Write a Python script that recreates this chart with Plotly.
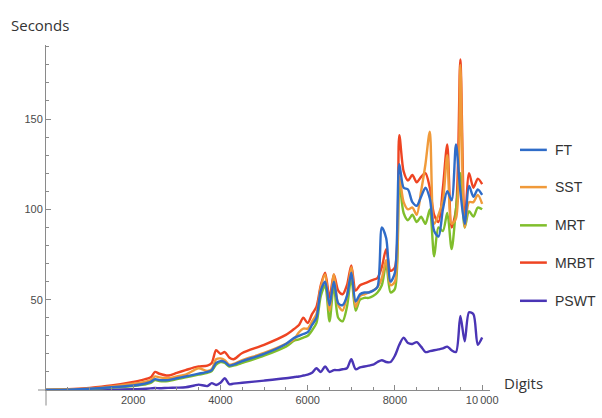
import plotly.graph_objects as go

# Input size (number of digits) at which timings were taken
digits = [0, 500, 1000, 1500, 2000, 2200, 2400, 2500, 2600, 2800,
          3000, 3200, 3400, 3500, 3700, 3800, 3900, 4000, 4100, 4200,
          4300, 4500, 5000, 5500, 5700,
          5800, 5900, 6000, 6100, 6200, 6300, 6400, 6500, 6600, 6700,
          6800, 6900, 7000, 7100, 7200, 7300, 7400, 7500, 7600, 7700,
          7800, 7900, 8000, 8100, 8200, 8300, 8400, 8500, 8600, 8700,
          8800, 8900, 9000, 9100, 9200, 9300, 9400, 9500, 9600, 9700,
          9800, 9900, 10000]

# Running times in seconds
ft = [0, 0.2, 0.7, 1.5, 2.5, 3.2, 4.5, 6, 5.5, 5.5,
      6.5, 7.5, 8.5, 9, 10, 11, 15, 16, 15.5, 13.5,
      14, 16, 20, 25.5, 29,
      30, 31, 32, 36, 40, 55, 60, 47, 60, 48,
      47, 52, 65, 49, 53, 54, 54, 55, 57, 90,
      84, 60, 65, 125, 112, 111, 104, 102, 107, 112,
      106, 88, 85, 100, 110, 105, 136, 110, 92, 113,
      107, 111, 108]

sst = [0, 0.3, 0.9, 2, 3.5, 4.2, 5.5, 7.5, 7, 6.5,
       7.5, 8.5, 11, 12, 10.5, 11.5, 17, 17.5, 16.5, 14,
       14.5, 16.5, 20.5, 25.5, 28.5,
       32, 34, 34, 38, 42, 57, 64, 44, 64, 47,
       44, 52, 68, 46, 52, 53, 54, 55, 57, 62,
       72, 58, 60, 118, 104, 100, 101, 97, 110, 125,
       143, 92, 97, 105, 130, 92, 95, 180, 90, 104,
       104, 108, 103]

mrt = [0, 0.2, 0.6, 1.3, 2.2, 2.8, 4, 5.5, 5, 5,
       6, 7, 8, 8.5, 9.5, 10.5, 14, 15.5, 15, 13,
       13.5, 15, 19, 24, 27.5,
       28, 29, 30, 33, 37, 52, 58, 38, 58, 40,
       38, 46, 62, 44, 50, 51, 51, 52, 54, 58,
       70, 54, 56, 115, 98, 94, 97, 93, 96, 92,
       100, 74, 90, 88, 98, 78, 100, 120, 90, 99,
       96, 101, 100]

mrbt = [0, 0.4, 1.2, 2.5, 4.5, 5.5, 7, 10, 9, 8,
        9.5, 11, 12.5, 13, 13.5, 15, 22, 20, 21, 18,
        17, 20.5, 25, 30.5, 34,
        36, 40, 37, 42, 46, 58, 65, 51, 64, 55,
        53, 58, 69, 55, 58, 59, 60, 61, 62, 68,
        78, 66, 68, 141, 121, 116, 119, 115, 118, 120,
        112, 97, 93, 112, 136, 90, 100, 183, 92, 120,
        112, 117, 114]

pswt = [0, 0, 0.1, 0.2, 0.4, 0.6, 0.9, 1.1, 1, 1.2,
        1.3, 1.5, 2.5, 3, 2.2, 3.8, 2.8, 4, 6.5, 3.2,
        3.5, 4, 5.2, 6.5, 7.2,
        7.5, 8, 8.5, 9.5, 12, 10, 13, 10, 11, 11,
        11.5, 12, 17, 11.5, 12.5, 13, 13.5, 14, 15.5, 16.5,
        15.5, 15.5, 19, 25, 29, 26, 25.5, 26.5, 24, 21,
        21.5, 22, 22.5, 23, 24, 22, 21, 41, 27, 43,
        42, 25, 29]

series_names = ["FT", "SST", "MRT", "MRBT", "PSWT"]
series_values = [ft, sst, mrt, mrbt, pswt]
series_colors = ["#2F6CC8", "#F09A3A", "#80BE2C", "#EE4422", "#4A35B5"]

x_ticks = [2000, 4000, 6000, 8000, 10000]
x_tick_text = ["2000", "4000", "6000", "8000", "10\u2009000"]
y_ticks = [50, 100, 150]

axis_color = "#8a8a8a"
tick_font = dict(family="Liberation Sans Narrow, Liberation Sans, Arial", size=11, color="#4a4a4a")
label_font = dict(family="Open Sans, Noto Sans, sans-serif", size=15, color="#333333")

fig = go.Figure()

# Draw from back to front so the lower curves stay visible
for name, vals, col in zip(series_names[::-1], series_values[::-1], series_colors[::-1]):
    fig.add_trace(go.Scatter(
        x=digits, y=vals, name=name, mode="lines",
        line=dict(color=col, width=2.4, shape="spline", smoothing=0.8),
        showlegend=False,
    ))

fig.update_layout(
    width=602, height=418,
    margin=dict(l=46, r=112, t=45, b=21),
    plot_bgcolor="white", paper_bgcolor="white",
    xaxis=dict(
        range=[0, 10180], showgrid=False, zeroline=False,
        showline=True, linecolor=axis_color, linewidth=1,
        tickmode="array", tickvals=x_ticks, ticktext=x_tick_text,
        ticks="inside", ticklen=5, tickcolor=axis_color, tickfont=tick_font,
        minor=dict(ticks="inside", ticklen=3, dtick=500, tickcolor=axis_color, showgrid=False),
    ),
    yaxis=dict(
        range=[0, 191], showgrid=False, zeroline=False,
        showline=True, linecolor=axis_color, linewidth=1,
        tickmode="array", tickvals=y_ticks,
        ticks="inside", ticklen=5, tickcolor=axis_color, tickfont=tick_font,
        minor=dict(ticks="inside", ticklen=3, dtick=10, tickcolor=axis_color, showgrid=False),
    ),
)

# Axis stubs that extend past the origin
fig.add_shape(type="line", xref="paper", yref="paper", x0=0, x1=0, y0=-0.045, y1=0,
              line=dict(color=axis_color, width=1))
fig.add_shape(type="line", xref="paper", yref="paper", x0=-0.018, x1=0, y0=0, y1=0,
              line=dict(color=axis_color, width=1))

# Axis labels
fig.add_annotation(text="Seconds", xref="paper", yref="paper", x=-0.084, y=1.057,
                   xanchor="left", yanchor="middle", showarrow=False, font=label_font)
fig.add_annotation(text="Digits", xref="paper", yref="paper", x=1.027, y=0.02,
                   xanchor="left", yanchor="middle", showarrow=False, font=label_font)

# Legend on the right
legend_rows_px = [152, 190, 229, 267, 306]
for name, col, ypx in zip(series_names, series_colors, legend_rows_px):
    yp = (397 - ypx) / 352
    fig.add_shape(type="line", xref="paper", yref="paper",
                  x0=1.0676, x1=1.128, y0=yp, y1=yp,
                  line=dict(color=col, width=2.5))
    fig.add_annotation(text=name, xref="paper", yref="paper", x=1.142, y=yp,
                       xanchor="left", yanchor="middle", showarrow=False,
                       font=dict(family="Liberation Sans Narrow, Liberation Sans, Arial",
                                 size=14, color="#333333"))

fig.write_html("out.html")
